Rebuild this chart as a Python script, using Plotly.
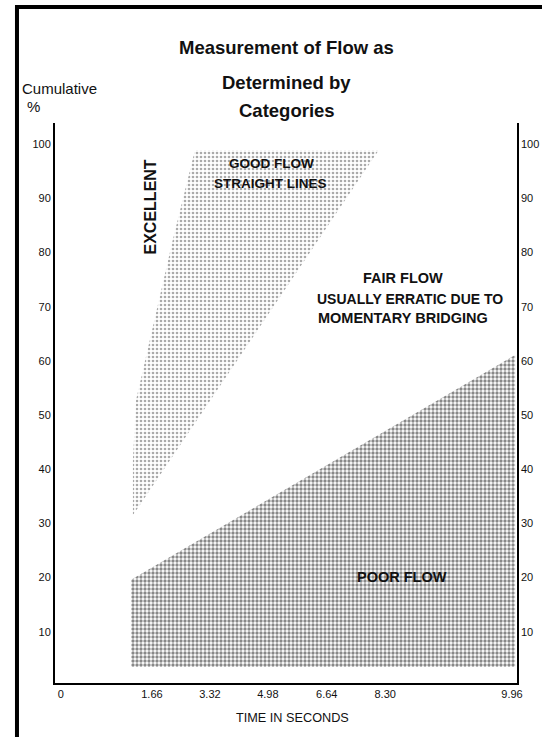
import plotly.graph_objects as go

# ---- data ----
good_time = [2.96, 7.02, 1.59, 1.59, 1.66, 1.86, 2.19, 2.47, 2.96]
good_pct = [98.9, 98.9, 31.5, 41.7, 52.8, 60.1, 71.8, 82.3, 98.9]

poor_time = [1.55, 1.55, 10.03, 10.03, 1.55]
poor_pct = [3.5, 19.6, 61.1, 3.5, 3.5]

x_tick_labels = ["0", "1.66", "3.32", "4.98", "6.64", "8.30", "9.96"]
x_tick_pos = [0.0, 2.01, 3.29, 4.57, 5.87, 7.16, 9.96]
y_ticks = [10, 20, 30, 40, 50, 60, 70, 80, 90, 100]

FONT = "Liberation Sans, Arial, Helvetica, sans-serif"
INK = "#111111"

fig = go.Figure()

fig.add_trace(go.Scatter(
    x=poor_time, y=poor_pct, mode="lines", fill="toself",
    line=dict(width=0, color="rgba(0,0,0,0)"),
    fillcolor="white",
    fillpattern=dict(shape=".", fgcolor="#111111", bgcolor="white", size=4,
                     solidity=0.55, fillmode="overlay"),
    hoverinfo="skip", showlegend=False,
))
fig.add_trace(go.Scatter(
    x=good_time, y=good_pct, mode="lines", fill="toself",
    line=dict(width=0, color="rgba(0,0,0,0)"),
    fillcolor="white",
    fillpattern=dict(shape=".", fgcolor="#555555", bgcolor="white", size=4,
                     solidity=0.35, fillmode="overlay"),
    hoverinfo="skip", showlegend=False,
))
# invisible trace for right axis
fig.add_trace(go.Scatter(x=[0], y=[50], yaxis="y2", mode="markers",
                         marker=dict(opacity=0), hoverinfo="skip", showlegend=False))

def ann(text, x, y, size, bold=True, angle=0):
    fig.add_annotation(
        text=f"<b>{text}</b>" if bold else text, x=x, y=y, xref="x", yref="y",
        xanchor="center", yanchor="middle",
        showarrow=False, textangle=angle,
        font=dict(family=FONT, size=size, color=INK),
    )

ann("GOOD FLOW", 4.66, 96.5, 13.5)
ann("STRAIGHT LINES", 4.62, 92.8, 13.5)
ann("EXCELLENT", 2.0, 88.4, 16, angle=-90)
ann("FAIR FLOW", 7.55, 75.3, 14.5)
ann("USUALLY ERRATIC DUE TO", 7.71, 71.4, 14)
ann("MOMENTARY BRIDGING", 7.55, 67.9, 14.5)
ann("POOR FLOW", 7.53, 20.1, 14.5)

def pann(text, x, y, size, bold=False):
    fig.add_annotation(
        text=f"<b>{text}</b>" if bold else text, x=x, y=y, xref="paper", yref="paper",
        xanchor="center", yanchor="middle",
        showarrow=False, font=dict(family=FONT, size=size, color=INK),
    )

pann("Measurement of Flow as", 0.502, 1.1357, 18.5, bold=True)
pann("Determined by", 0.502, 1.0732, 18.5, bold=True)
pann("Categories", 0.502, 1.0232, 18.5, bold=True)
pann("Cumulative", 0.0108, 1.0625, 15)
pann("%", -0.0455, 1.0286, 15)
pann("TIME IN SECONDS", 0.513, -0.0625, 12.7)

# outer frame (right and bottom edges fall outside the visible page)
fig.add_shape(type="rect", xref="paper", yref="paper",
              x0=-0.0823, x1=1.07, y0=-0.2, y1=1.2071,
              line=dict(color="black", width=4))

tick_font = dict(family=FONT, size=11, color=INK)
fig.update_layout(
    width=542, height=737,
    margin=dict(l=55, r=25, t=123, b=54, autoexpand=False),
    paper_bgcolor="white", plot_bgcolor="white",
    font=dict(family=FONT, size=11, color=INK),
    xaxis=dict(range=[-0.13, 10.07], tickvals=x_tick_pos, ticktext=x_tick_labels,
               showgrid=False, zeroline=False, showline=True, linecolor="black",
               linewidth=2, ticks="", tickfont=tick_font, automargin=False),
    yaxis=dict(range=[0.55, 103.9], tickvals=y_ticks, showgrid=False, zeroline=False,
               showline=True, linecolor="black", linewidth=2, ticks="",
               tickfont=tick_font, automargin=False),
    yaxis2=dict(range=[0.55, 103.9], tickvals=y_ticks, overlaying="y", side="right",
                showgrid=False, zeroline=False, showline=True, linecolor="black",
                linewidth=1.5, ticks="", tickfont=tick_font, automargin=False),
)

fig.write_html("out.html", config={"displayModeBar": False},
               post_script="document.body.style.margin='0';document.body.style.overflow='hidden';")
